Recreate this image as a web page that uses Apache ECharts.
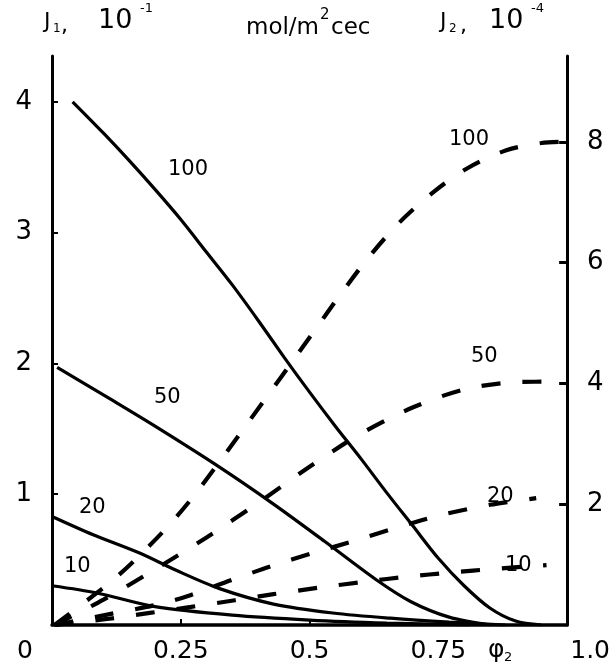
<!DOCTYPE html>
<html>
<head>
<meta charset="utf-8">
<script src="https://cdn.jsdelivr.net/npm/echarts@6/dist/echarts.min.js"></script>
<style>
html,body{margin:0;padding:0;background:#fff;}
#chart{width:613px;height:670px;}
</style>
</head>
<body>
<div id="chart"></div>
<script>
// ---- data ----
const xTicks = [0, 0.25, 0.5, 0.75, 1.0];
const xTickLabels = ['0', '0.25', '0.5', '0.75', '1.0'];
const leftTicks = [1, 2, 3, 4];
const rightTicks = [2, 4, 6, 8];

// J1 (left axis, units 10^-1), solid curves
const j1_100 = [[0.04,4.0],[0.1,3.76],[0.15,3.55],[0.2,3.33],[0.25,3.1],[0.3,2.85],[0.35,2.6],[0.4,2.33],[0.45,2.05],[0.5,1.78],[0.55,1.52],[0.6,1.27],[0.65,1.01],[0.7,0.76],[0.75,0.51],[0.8,0.3],[0.85,0.13],[0.9,0.03],[0.95,0]];
const j1_50 = [[0.01,1.97],[0.112,1.73],[0.2,1.52],[0.32,1.22],[0.428,0.93],[0.529,0.64],[0.628,0.35],[0.696,0.18],[0.771,0.06],[0.85,0.0]];
const j1_20 = [[0,0.83],[0.08,0.69],[0.17,0.55],[0.24,0.42],[0.324,0.28],[0.43,0.16],[0.545,0.092],[0.657,0.052],[0.771,0.022],[0.88,0]];
const j1_10 = [[0,0.30],[0.087,0.245],[0.2,0.14],[0.35,0.075],[0.5,0.038],[0.65,0.015],[0.81,0]];

// J2 (right axis, units 10^-4), dashed curves
const j2_100 = [[0.005,0],[0.112,0.7],[0.17,1.15],[0.229,1.67],[0.281,2.2],[0.378,3.32],[0.506,4.83],[0.558,5.45],[0.616,6.1],[0.674,6.66],[0.738,7.15],[0.804,7.55],[0.882,7.86],[0.95,7.98],[0.985,8.0]];
const j2_50 = [[0.005,0],[0.1,0.42],[0.2,0.92],[0.3,1.45],[0.4,2.02],[0.5,2.62],[0.6,3.17],[0.7,3.6],[0.8,3.9],[0.9,4.02],[0.985,4.03]];
const j2_20 = [[0.005,0],[0.1,0.16],[0.2,0.33],[0.264,0.48],[0.347,0.74],[0.424,0.97],[0.51,1.2],[0.578,1.37],[0.665,1.6],[0.75,1.81],[0.85,1.99],[0.94,2.1]];
const j2_10 = [[0.005,0],[0.107,0.1],[0.19,0.2],[0.27,0.3],[0.355,0.41],[0.43,0.51],[0.52,0.62],[0.61,0.72],[0.69,0.8],[0.775,0.87],[0.86,0.93],[0.96,0.99]];

const curveLabels = ['100', '50', '20', '10'];

// ---- chart ----
const chart = echarts.init(document.getElementById('chart'), null, {renderer: 'canvas'});
const FONT = 'DejaVu Sans';
const solid = (d) => ({type:'line', data:d, xAxisIndex:0, yAxisIndex:0, smooth:0.3,
  showSymbol:false, symbol:'none', lineStyle:{color:'#000', width:3.2}, silent:true});
const dashed = (d) => ({type:'line', data:d, xAxisIndex:0, yAxisIndex:1, smooth:0.3,
  showSymbol:false, symbol:'none', lineStyle:{color:'#000', width:4.2, type:[19,22]}, silent:true});

const txt = (x, y, s, size) => ({type:'text', x:x, y:y, silent:true, z:10,
  style:{text:s, fill:'#000', font: size + 'px "' + FONT + '"', textVerticalAlign:'middle'}});

const option = {
  animation:false,
  backgroundColor:'#fff',
  grid:{left:52, right:45, top:56, bottom:45, containLabel:false},
  xAxis:{type:'value', min:0, max:1.0,
    axisLine:{show:true, lineStyle:{color:'#000', width:3.5}},
    axisTick:{show:true, inside:true, length:6, lineStyle:{color:'#000', width:2}, customValues:[0.25,0.5]},
    axisLabel:{show:true, customValues:xTicks, color:'#000', fontFamily:FONT, fontSize:25, margin:14,
      formatter:function(v){ const i = xTicks.indexOf(v); const s = i>=0? xTickLabels[i] : '';
        if (v===0) return '{l|'+s+'}'; if (v===1) return '{r|'+s+'}'; return s; },
      rich:{l:{fontSize:25, fontFamily:FONT, color:'#000', padding:[0,54,0,0]},
            r:{fontSize:25, fontFamily:FONT, color:'#000', padding:[0,0,0,46]}}},
    splitLine:{show:false}},
  yAxis:[
    {type:'value', min:0, max:4.35, position:'left',
     axisLine:{show:true, lineStyle:{color:'#000', width:3}},
     axisTick:{show:true, inside:true, length:6, customValues:leftTicks, lineStyle:{color:'#000', width:2}},
     axisLabel:{show:true, customValues:leftTicks, color:'#000', fontFamily:FONT, fontSize:26, margin:20},
     splitLine:{show:false}},
    {type:'value', min:0, max:9.42, position:'right',
     axisLine:{show:true, lineStyle:{color:'#000', width:3}},
     axisTick:{show:true, inside:true, length:8, customValues:rightTicks, lineStyle:{color:'#000', width:3}},
     axisLabel:{show:true, customValues:rightTicks, color:'#000', fontFamily:FONT, fontSize:26, margin:20},
     splitLine:{show:false}}
  ],
  series:[solid(j1_100), solid(j1_50), solid(j1_20), solid(j1_10),
          dashed(j2_100), dashed(j2_50), dashed(j2_20), dashed(j2_10)],
  graphic:[
    // header
    txt(44, 22, 'J', 22), txt(53, 29, '1', 12), txt(61, 26, ',', 22),
    txt(98, 21, '10', 27), txt(140, 9, '-1', 13),
    txt(246, 28, 'mol/m', 23), txt(320, 15, '2', 15), txt(331, 28, 'cec', 23),
    txt(440, 22, 'J', 22), txt(449, 29, '2', 12), txt(460, 26, ',', 22),
    txt(489, 21, '10', 27), txt(531, 9, '-4', 13),
    // curve labels (solid J1)
    txt(168, 170, curveLabels[0], 21),
    txt(154, 398, curveLabels[1], 21),
    txt(79, 508, curveLabels[2], 21),
    txt(64, 567, curveLabels[3], 21),
    // curve labels (dashed J2)
    txt(449, 140, curveLabels[0], 21),
    txt(471, 357, curveLabels[1], 21),
    txt(487, 497, curveLabels[2], 21),
    txt(505, 566, curveLabels[3], 21),
    // x axis symbol
    txt(488, 650, 'φ', 25), txt(504, 658, '2', 13)
  ]
};
chart.setOption(option);
</script>
</body>
</html>
